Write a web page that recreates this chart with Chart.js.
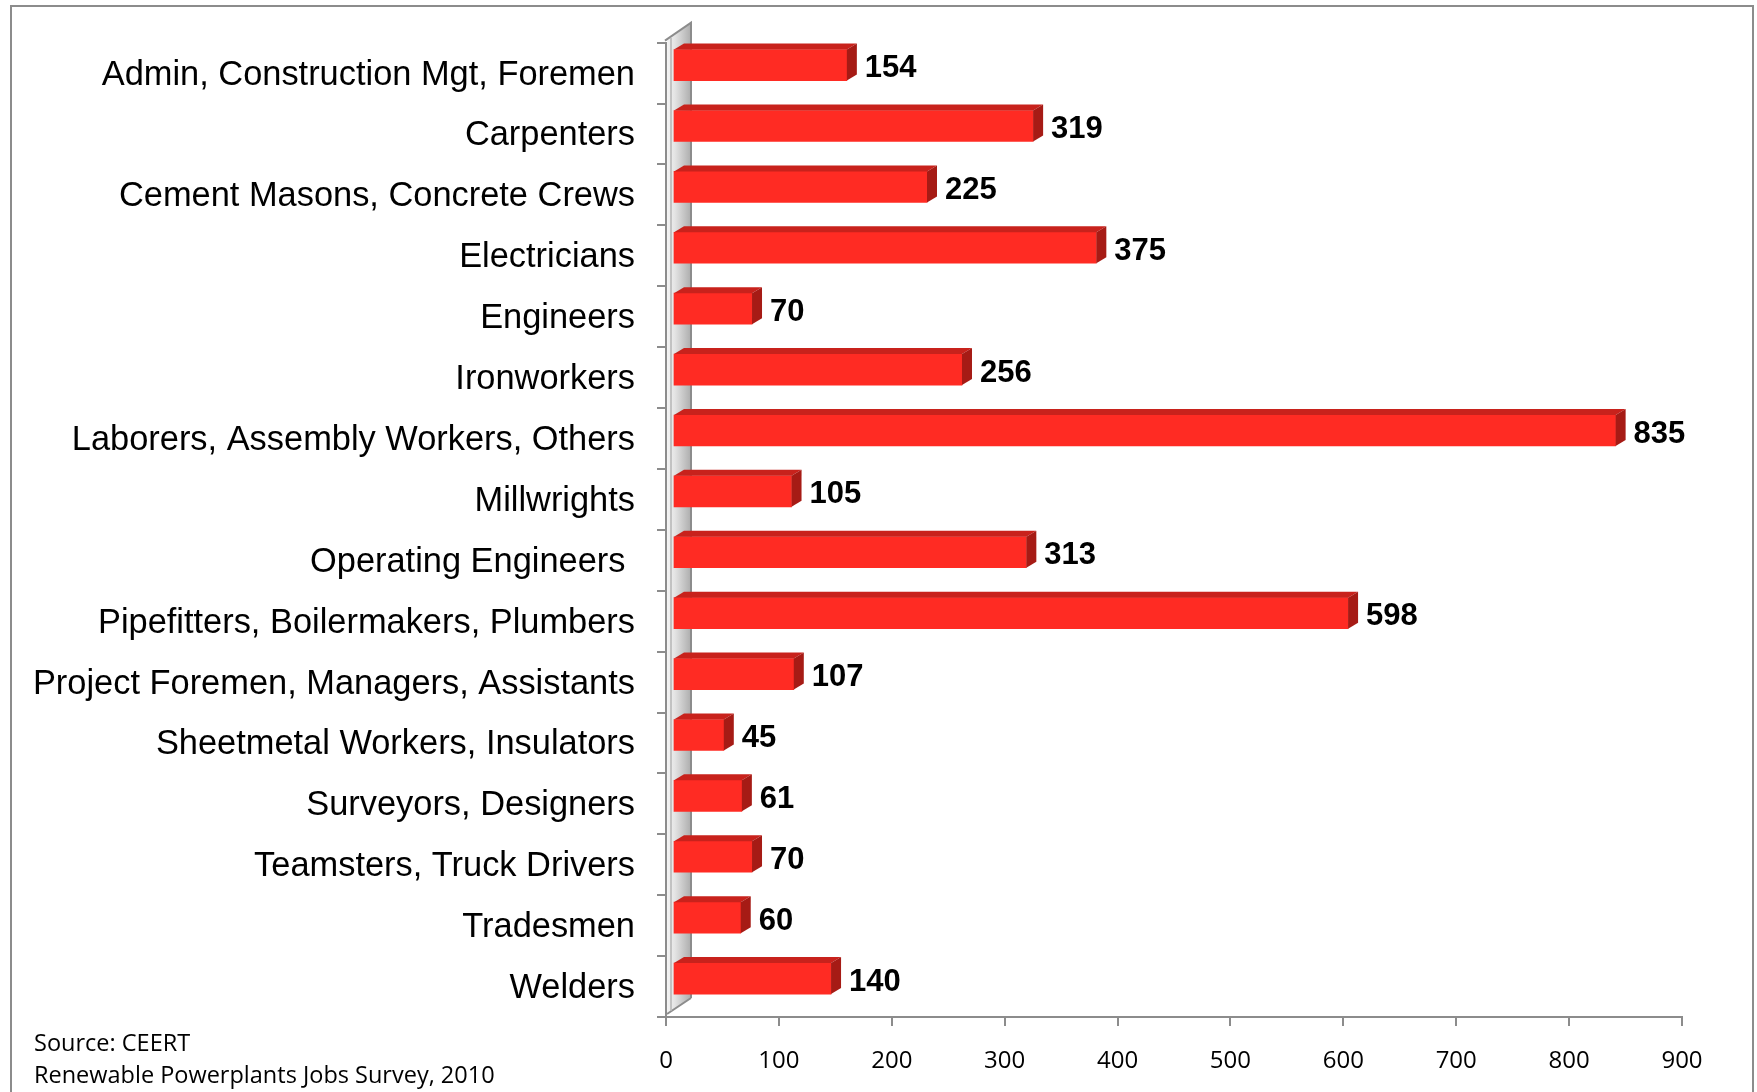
<!DOCTYPE html>
<html>
<head>
<meta charset="utf-8">
<script src="https://cdn.jsdelivr.net/npm/chart.js@4.4.1/dist/chart.umd.min.js"></script>
<style>
  html, body { margin: 0; padding: 0; background: #fff; }
  canvas { display: block; }
</style>
</head>
<body>
<canvas id="jobs-chart" width="1757" height="1092"></canvas>
<script>
const categories = [
    'Admin, Construction Mgt, Foremen',
    'Carpenters',
    'Cement Masons, Concrete Crews',
    'Electricians',
    'Engineers',
    'Ironworkers',
    'Laborers, Assembly Workers, Others',
    'Millwrights',
    'Operating Engineers ',
    'Pipefitters, Boilermakers, Plumbers',
    'Project Foremen, Managers, Assistants',
    'Sheetmetal Workers, Insulators',
    'Surveyors, Designers',
    'Teamsters, Truck Drivers',
    'Tradesmen',
    'Welders'
];
const jobs = [154, 319, 225, 375, 70, 256, 835, 105, 313, 598, 107, 45, 61, 70, 60, 140];
const xMin = 0;
const xMax = 900;
const xStep = 100;
const sourceLines = ['Source: CEERT', 'Renewable Powerplants Jobs Survey, 2010'];

const AXIS_GRAY = '#8c8c8c';
const FRONT_RED = '#ff2b23';
const TOP_RED = '#c8221c';
const SIDE_RED = '#a61b15';
// fake 3d depth
const DEPTH_X = 10;
const DEPTH_Y = 6;
const BAR_SHIFT_X = 7;
const BAR_SHIFT_Y = -8;

const frame3d = {
    id: 'frame3d',
    beforeDraw(chart) {
        const ctx = chart.ctx;
        ctx.save();
        ctx.fillStyle = '#fff';
        ctx.fillRect(0, 0, chart.width, chart.height);
        ctx.strokeStyle = AXIS_GRAY;
        ctx.lineWidth = 2;
        ctx.strokeRect(11, 6, 1742, 1200);
        ctx.restore();
    },
    beforeDatasetsDraw(chart) {
        const ctx = chart.ctx;
        const a = chart.chartArea;
        const fx = a.left, bx = a.left + 25;
        const top = a.top, bottom = a.bottom;
        ctx.save();
        // side wall
        let grad = ctx.createLinearGradient(fx, 0, bx, 0);
        grad.addColorStop(0, '#f6f6f6');
        grad.addColorStop(0.35, '#e4e4e4');
        grad.addColorStop(1, '#adadad');
        ctx.fillStyle = grad;
        ctx.beginPath();
        ctx.moveTo(fx + 1, top - 2);
        ctx.lineTo(bx, top - 20);
        ctx.lineTo(bx, bottom - 19);
        ctx.lineTo(fx + 1, bottom - 3);
        ctx.closePath();
        ctx.fill();
        ctx.strokeStyle = AXIS_GRAY;
        ctx.lineWidth = 2;
        ctx.beginPath();
        ctx.moveTo(fx - 1, top - 2);
        ctx.lineTo(bx, top - 20);
        ctx.lineTo(bx, bottom - 19);
        ctx.moveTo(fx + 1, bottom - 3);
        ctx.lineTo(bx, bottom - 19);
        ctx.stroke();
        ctx.strokeStyle = '#b5b5b5';
        ctx.lineWidth = 1.5;
        ctx.beginPath();
        ctx.moveTo(fx + 5, top - 5);
        ctx.lineTo(fx + 5, bottom - 6);
        ctx.stroke();
        ctx.restore();

        ctx.save();
        ctx.translate(BAR_SHIFT_X, BAR_SHIFT_Y);
    },
    afterDatasetsDraw(chart) {
        const ctx = chart.ctx;
        ctx.restore();
        const meta = chart.getDatasetMeta(0);
        ctx.save();
        meta.data.forEach((bar, i) => {
            const x0 = bar.base + BAR_SHIFT_X;
            const x1 = bar.x + BAR_SHIFT_X;
            const yt = bar.y - bar.height / 2 + BAR_SHIFT_Y;
            const yb = bar.y + bar.height / 2 + BAR_SHIFT_Y;

            ctx.fillStyle = TOP_RED;
            ctx.beginPath();
            ctx.moveTo(x0, yt);
            ctx.lineTo(x1, yt);
            ctx.lineTo(x1 + DEPTH_X, yt - DEPTH_Y);
            ctx.lineTo(x0 + DEPTH_X, yt - DEPTH_Y);
            ctx.closePath();
            ctx.fill();

            ctx.fillStyle = SIDE_RED;
            ctx.beginPath();
            ctx.moveTo(x1, yt);
            ctx.lineTo(x1 + DEPTH_X, yt - DEPTH_Y);
            ctx.lineTo(x1 + DEPTH_X, yb - DEPTH_Y);
            ctx.lineTo(x1, yb);
            ctx.closePath();
            ctx.fill();

            ctx.fillStyle = '#000';
            ctx.font = 'bold 31px "Liberation Sans", Arial, sans-serif';
            ctx.textAlign = 'left';
            ctx.textBaseline = 'middle';
            ctx.fillText(String(jobs[i]), x1 + DEPTH_X + 8, (yt + yb) / 2 + 3.5);
        });

        ctx.fillStyle = '#000';
        ctx.font = '23.5px "Open Sans", sans-serif';
        ctx.textAlign = 'left';
        ctx.textBaseline = 'alphabetic';
        ctx.fillText(sourceLines[0], 34, 1051);
        ctx.fillText(sourceLines[1], 34, 1083);
        ctx.restore();
    }
};

function createChart() {
    const ctx = document.querySelector('#jobs-chart').getContext('2d');
    return new Chart(ctx, {
        type: 'bar',
        data: {
            labels: categories,
            datasets: [{
                data: jobs,
                backgroundColor: FRONT_RED,
                borderWidth: 0,
                barThickness: 31
            }]
        },
        options: {
            indexAxis: 'y',
            responsive: false,
            animation: false,
            devicePixelRatio: 1,
            layout: {
                padding: { top: 41, right: 75, left: 0, bottom: 0 }
            },
            plugins: {
                legend: { display: false },
                tooltip: { enabled: false }
            },
            scales: {
                x: {
                    min: xMin,
                    max: xMax,
                    afterFit: scale => { scale.height = 75; },
                    grid: {
                        drawOnChartArea: false,
                        tickLength: 9,
                        color: AXIS_GRAY,
                        lineWidth: 2
                    },
                    border: { color: AXIS_GRAY, width: 2 },
                    ticks: {
                        stepSize: xStep,
                        color: '#000',
                        padding: 21,
                        maxRotation: 0,
                        font: { family: '"Open Sans", sans-serif', size: 24 }
                    }
                },
                y: {
                    afterFit: scale => { scale.width = 666; },
                    grid: {
                        drawOnChartArea: false,
                        offset: true,
                        tickLength: 9,
                        color: AXIS_GRAY,
                        lineWidth: 2
                    },
                    border: { color: AXIS_GRAY, width: 2 },
                    ticks: {
                        color: '#000',
                        padding: 22,
                        labelOffset: 2,
                        autoSkip: false,
                        font: { family: '"Liberation Sans", Arial, sans-serif', size: 34.4 }
                    }
                }
            }
        },
        plugins: [frame3d]
    });
}

createChart();
</script>
</body>
</html>
